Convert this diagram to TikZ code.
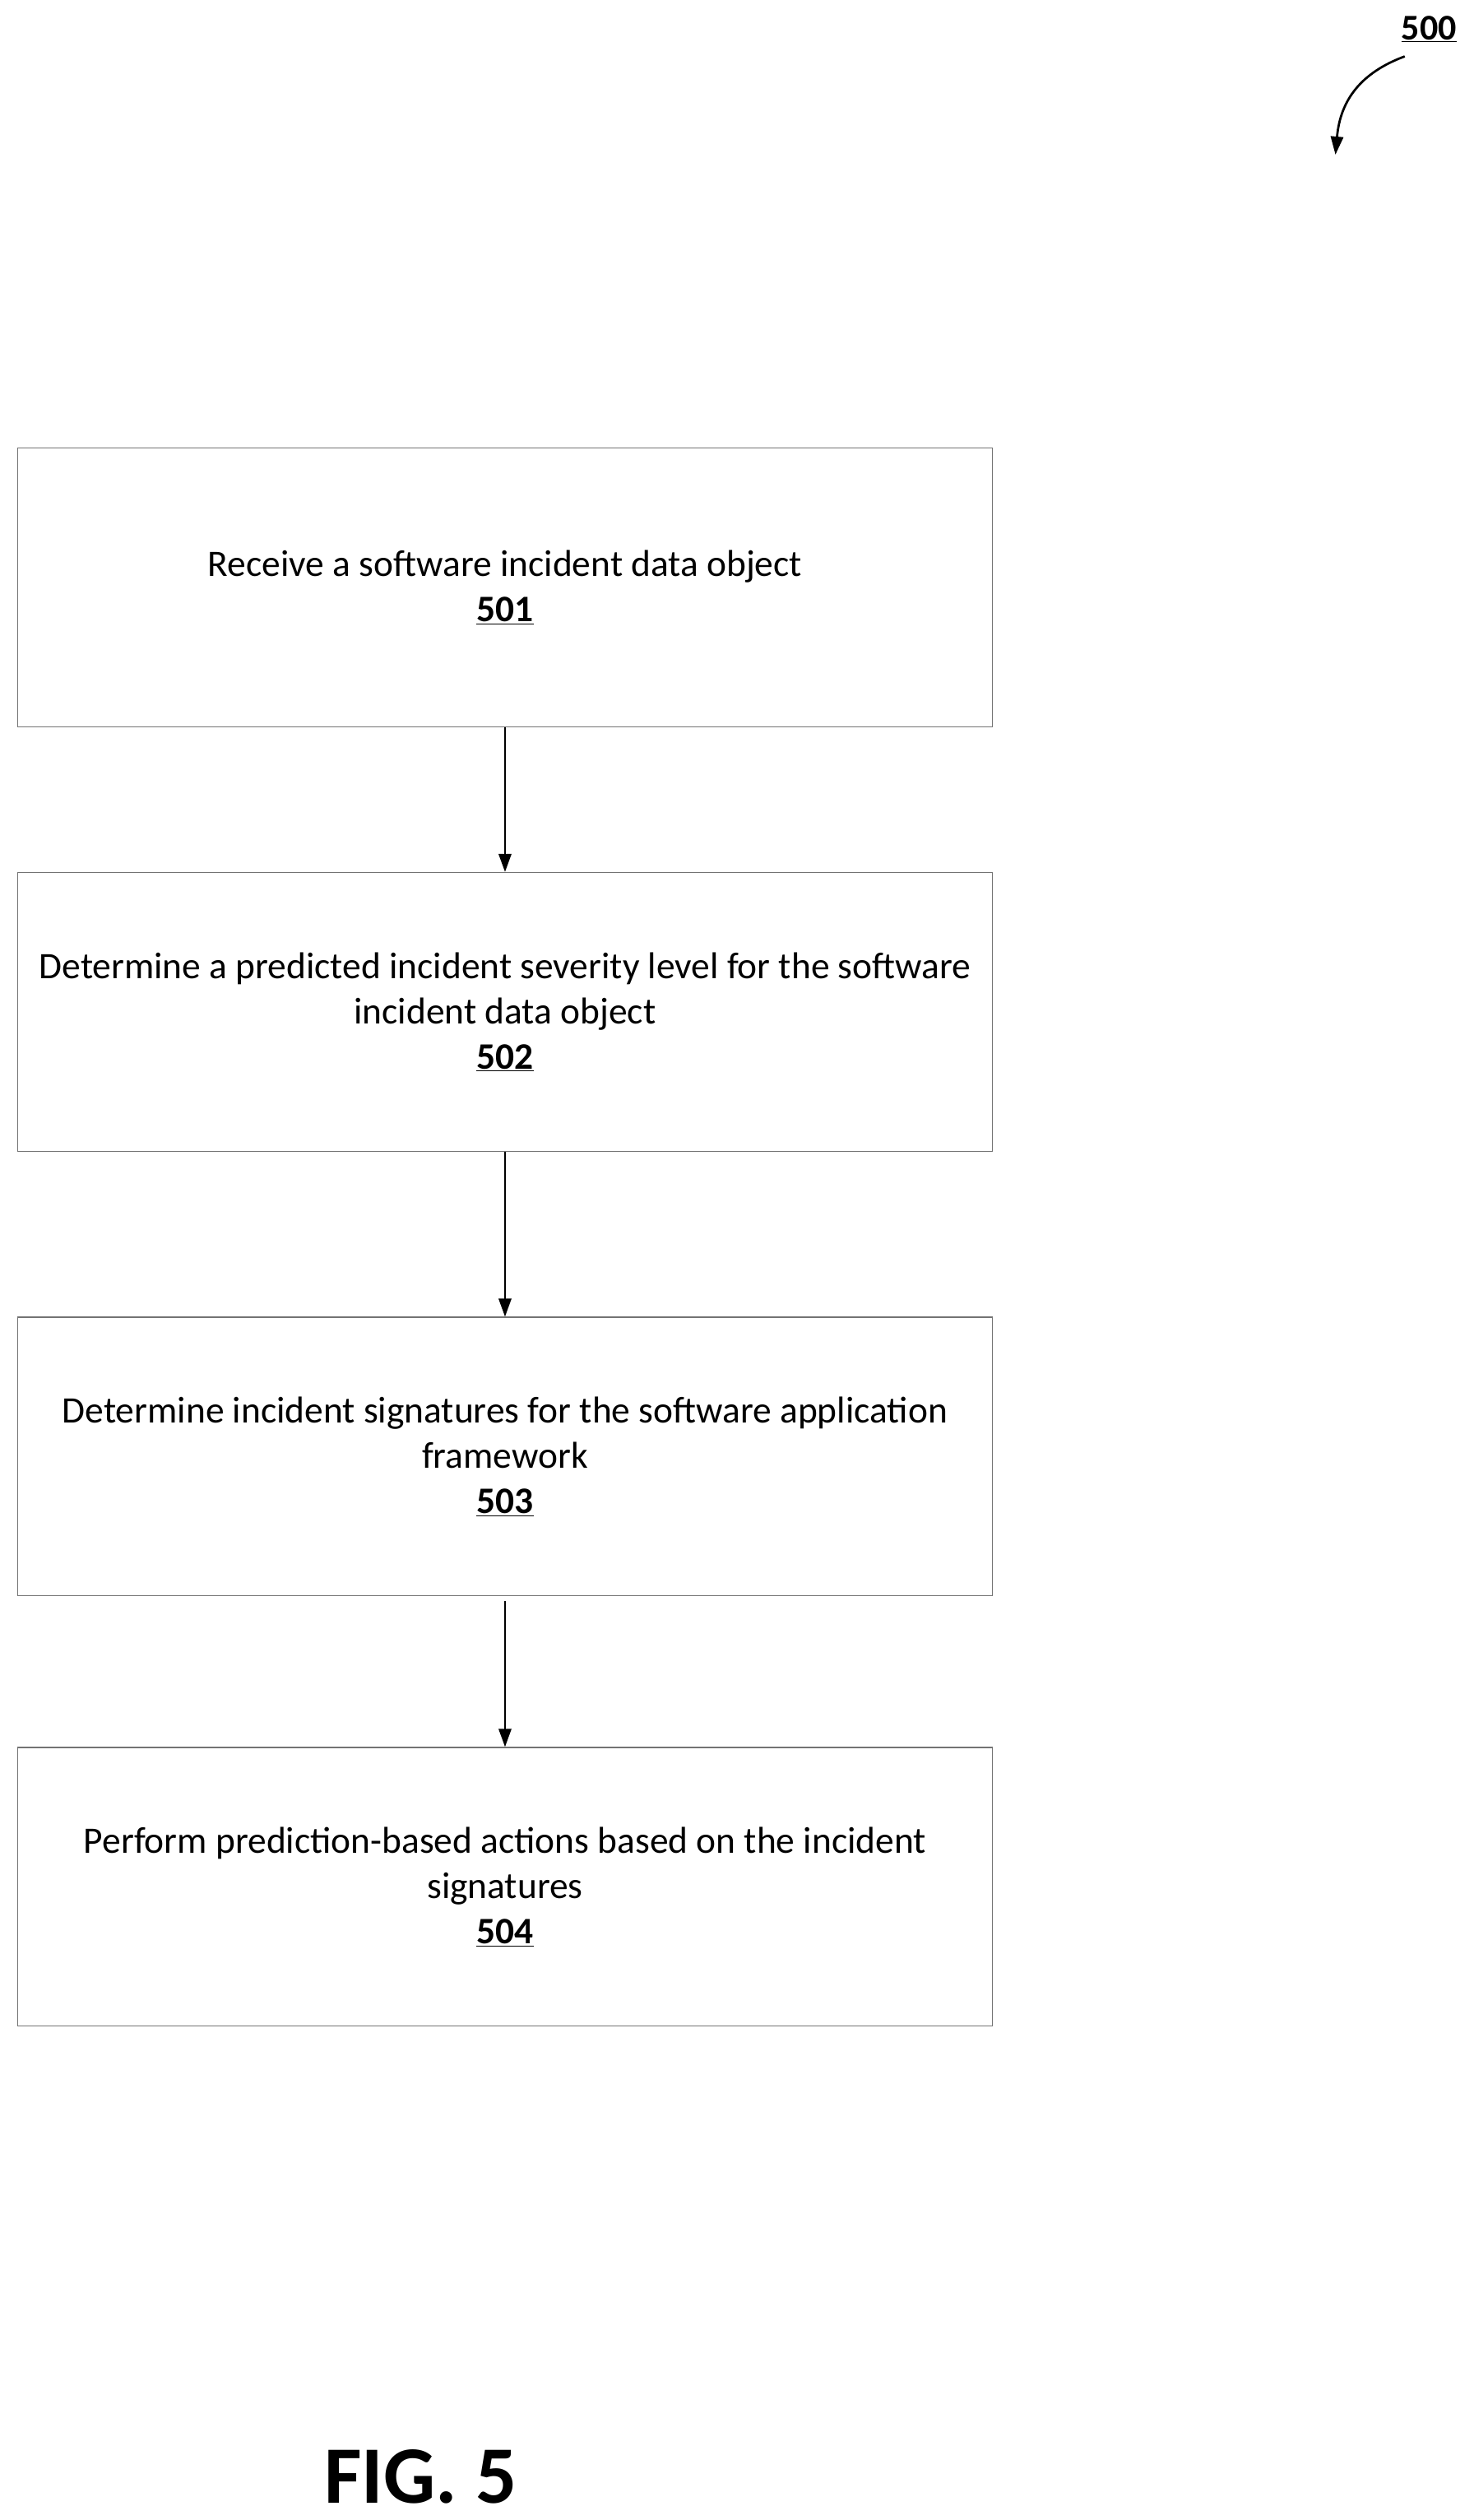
\documentclass[tikz,border=0pt]{standalone}
\usepackage{fontspec}
\setmainfont{Carlito}
\usetikzlibrary{arrows.meta}
\begin{document}
\begin{tikzpicture}[x=0.05cm,y=-0.05cm,
  stepbox/.style={draw=black!55,line width=0.8pt,minimum width=605*0.05cm,minimum height=173*0.05cm,align=center,inner sep=0pt,font=\fontsize{33}{40}\selectfont},
  flow/.style={line width=2pt,-{Triangle[length=16pt,width=11pt]}}]
\useasboundingbox (0,0) rectangle (915,1564);
\node[stepbox] (b1) at (313.5,364.5) {Receive a software incident data object\\\textbf{\underline{501}}};
\node[stepbox] (b2) at (313.5,628) {Determine a predicted incident severity level for the software\\incident data object\\\textbf{\underline{502}}};
\node[stepbox] (b3) at (313.5,904) {Determine incident signatures for the software application\\framework\\\textbf{\underline{503}}};
\node[stepbox] (b4) at (313.5,1171) {Perform prediction-based actions based on the incident\\signatures\\\textbf{\underline{504}}};
\draw[flow] (b1) -- (b2);
\draw[flow] (b2) -- (b3);
\draw[flow] (b3.south) ++(0,3) coordinate (c3) (c3) -- (b4);
\node[font=\fontsize{32}{38}\selectfont\bfseries] (n500) at (887,18) {\underline{500}};
\coordinate (t500) at (829,96);
\draw[line width=2pt,-{Triangle[length=16pt,width=11pt]}] (872,35) .. controls (845,45) and (832,62) .. (t500);
\node[font=\fontsize{72}{84}\selectfont\bfseries] (fig) at (261,1537) {FIG. 5};
\end{tikzpicture}
\end{document}
